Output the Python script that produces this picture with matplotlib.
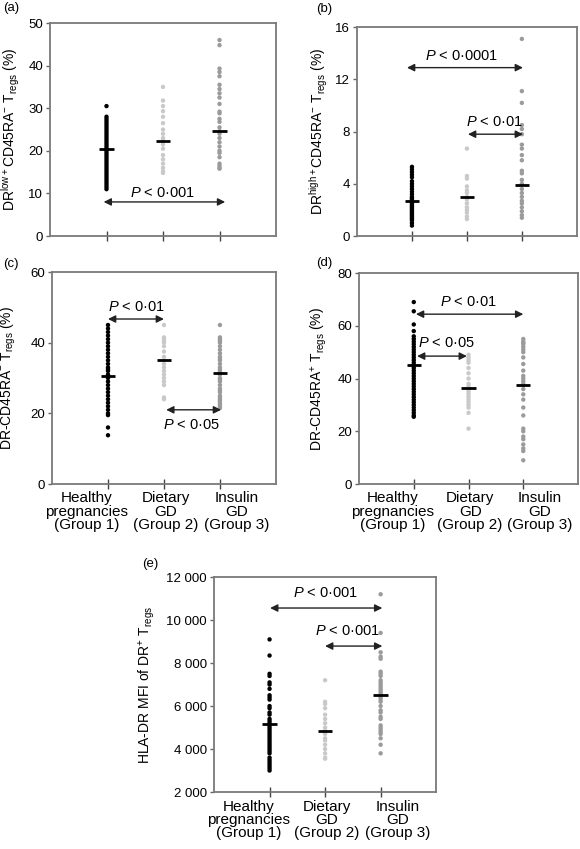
import numpy as np
import matplotlib
matplotlib.use('Agg')
import matplotlib.pyplot as plt

plt.rcParams['font.family'] = ['Liberation Sans', 'DejaVu Sans']
plt.rcParams['mathtext.fontset'] = 'custom'
plt.rcParams['mathtext.rm'] = 'Liberation Sans'
plt.rcParams['mathtext.it'] = 'Liberation Sans:italic'

groups = ['Healthy\npregnancies\n(Group 1)', 'Dietary\nGD\n(Group 2)', 'Insulin\nGD\n(Group 3)']
group_colors = ['black', '#c9c9c9', '#9b9b9b']

# (a) DRlow+ CD45RA- Tregs (%)
a_g1 = [30.5, 28, 27.5, 27, 26.5, 26, 25.5, 25, 24.5, 24, 23.5, 23, 22.5, 22, 21.5, 21,
        20.5, 20.3, 20, 19.5, 19, 18.5, 18, 17.5, 17, 16.5, 16, 15.5, 15, 14.5, 14, 13.5,
        13, 12.5, 12, 11.5, 11]
a_g2 = [35, 31.8, 30.5, 29.3, 28, 26.5, 25, 24, 23, 22.5, 21.5, 20.5, 19, 18, 17, 16, 15.2, 14.8]
a_g3 = [46, 44.8, 39.3, 38.5, 37.5, 35.5, 34.5, 33.5, 32.5, 31, 29.2, 28.8, 27.5, 26.8, 25.5,
        24.6, 24, 23, 22, 21, 20, 19.5, 18.5, 17, 16.5, 16, 15.8]
a_med = [20.5, 22.3, 24.6]

# (b) DRhigh+ CD45RA- Tregs (%)
b_g1 = [5.3, 5.1, 4.9, 4.7, 4.5, 4.2, 4.0, 3.8, 3.6, 3.4, 3.2, 3.0, 2.9, 2.8, 2.7, 2.6, 2.5,
        2.4, 2.3, 2.2, 2.1, 2.0, 1.9, 1.8, 1.7, 1.6, 1.5, 1.4, 1.3, 1.2, 1.0, 0.8]
b_g2 = [6.7, 4.6, 4.4, 3.8, 3.5, 3.3, 3.0, 2.8, 2.5, 2.2, 2.0, 1.8, 1.5, 1.3]
b_g3 = [15.1, 11.1, 10.2, 8.5, 8.2, 7.8, 7.0, 6.7, 6.2, 5.8, 5.0, 4.8, 4.3, 4.0, 3.6, 3.3,
        3.0, 2.7, 2.5, 2.2, 1.9, 1.6, 1.4]
b_med = [2.7, 3.0, 3.9]

# (c) DR- CD45RA- Tregs (%)
c_g1 = [45, 44, 43, 42, 41, 40, 39, 38, 37, 36, 35, 34, 33, 32.5, 32, 31, 30.5, 30, 29, 28,
        27, 26, 25, 24, 23, 22, 21, 20, 19.5, 16, 13.8]
c_g2 = [45, 41.5, 41, 40.5, 40, 39, 37.5, 36, 35, 34, 33, 32, 31, 30, 29, 28, 24.5, 24]
c_g3 = [45, 41.5, 41, 40.5, 40, 39, 38, 37, 36, 35.5, 35, 34, 33, 32.5, 32, 31.5, 31, 30,
        29.5, 29, 28, 27, 26.5, 26, 25, 24.5, 24, 23.5, 23, 22.5, 22, 21.5]
c_med = [30.5, 35, 31.3]

# (d) DR- CD45RA+ Tregs (%)
d_g1 = [69, 65.5, 60.5, 58, 56, 55, 54, 53, 52, 51, 50, 49, 48, 47, 46, 45, 44, 43, 42, 41,
        40, 39, 38, 37, 36, 35, 34, 33, 32, 31, 30, 29, 28, 27, 26, 25.5]
d_g2 = [49, 48, 47, 46, 44, 42, 40, 38, 37, 36, 35, 34, 33, 32, 31, 30, 29, 27, 21]
d_g3 = [55, 54, 53.5, 53, 52, 51, 50, 48, 45.5, 43, 41, 40, 39, 38, 37.5, 36, 34, 32, 29,
        26, 21, 20, 18, 17, 15, 13.5, 12.5, 9]
d_med = [45, 36.5, 37.7]

# (e) HLA-DR MFI of DR+ Tregs
e_g1 = [9100, 8350, 7500, 7400, 7100, 7000, 6800, 6500, 6400, 6300, 6000, 5900, 5700, 5600,
        5400, 5300, 5200, 5100, 5000, 4900, 4800, 4700, 4600, 4500, 4400, 4300, 4200, 4100,
        4000, 3900, 3800, 3600, 3500, 3400, 3300, 3200, 3100, 3000]
e_g2 = [7200, 6200, 6100, 5900, 5600, 5400, 5200, 5000, 4850, 4700, 4500, 4400, 4200, 4000,
        3800, 3600, 3550]
e_g3 = [11200, 9400, 8500, 8300, 8200, 7600, 7500, 7400, 7200, 7100, 7000, 6900, 6800, 6700,
        6600, 6500, 6400, 6300, 6200, 6000, 5800, 5700, 5500, 5400, 5100, 5000, 4900, 4800,
        4700, 4500, 4200, 3800]
e_med = [5150, 4850, 6500]
e_ticks = [2000, 4000, 6000, 8000, 10000, 12000]
e_ticklabels = ['2 000', '4 000', '6 000', '8 000', '10 000', '12 000']

# comparisons: (x_start, x_end, y_arrow, text, x_text, y_text)
a_comp = [(0.95, 3.1, 8, '$P$ < 0·001', 2.0, 10.1)]
b_comp = [(0.91, 3.02, 12.9, '$P$ < 0·0001', 1.91, 13.8),
          (2.02, 3.02, 7.8, '$P$ < 0·01', 2.5, 8.7)]
c_comp = [(1.0, 2.0, 46.7, '$P$ < 0·01', 1.5, 50.2),
          (2.04, 3.02, 21, '$P$ < 0·05', 2.5, 16.8)]
d_comp = [(1.04, 3.0, 64.4, '$P$ < 0·01', 1.99, 69.2),
          (1.06, 1.97, 48.5, '$P$ < 0·05', 1.6, 53.3)]
e_comp = [(1.01, 3.03, 10560, '$P$ < 0·001', 2.0, 11250),
          (2.0, 3.03, 8790, '$P$ < 0·001', 2.4, 9500)]

# where the group names sit under the axis (data x)
label_x = [0.62, 2.03, 3.3]


def draw_panel(ax, data, med, comps, ylim, yticks, ylabel, show_xlabels, ylab_x,
               yticklabels=None):
    for i, vals in enumerate(data):
        x = np.full(len(vals), i + 1)
        ax.scatter(x, vals, s=10, color=group_colors[i], edgecolors='none', zorder=2)
        ax.plot([i + 1 - 0.13, i + 1 + 0.13], [med[i], med[i]], color='black', lw=2, zorder=3,
                solid_capstyle='butt')
    for x0, x1, y, txt, xt, yt in comps:
        ax.annotate('', xy=(x1, y), xytext=(x0, y),
                    arrowprops=dict(arrowstyle='<|-|>', color='#222222', lw=1.0,
                                    mutation_scale=11, shrinkA=0, shrinkB=0), zorder=4)
        ax.text(xt, yt, txt, ha='center', va='center', fontsize=10.5)
    ax.set_xlim(0, 4)
    ax.set_ylim(*ylim)
    ax.set_xticks([1, 2, 3])
    ax.set_xticklabels([])
    if show_xlabels:
        for i, g in enumerate(groups):
            ax.text(label_x[i], -0.035, g, transform=ax.get_xaxis_transform(),
                    ha='center', va='top', fontsize=11, linespacing=0.95)
    ax.set_yticks(yticks)
    if yticklabels is not None:
        ax.set_yticklabels(yticklabels)
    ax.tick_params(axis='y', direction='out', length=3, width=1, color='#666666',
                   labelsize=9.5, pad=2)
    ax.tick_params(axis='x', direction='inout', length=7, width=1, color='#444444')
    ax.set_ylabel(ylabel, fontsize=10)
    ax.yaxis.set_label_coords(ylab_x, 0.5)
    for sp in ax.spines.values():
        sp.set_color('#7a7a7a')
        sp.set_linewidth(1.3)


fig = plt.figure(figsize=(5.8, 8.49), dpi=100)

ax_a = fig.add_axes([0.0862, 0.722, 0.3897, 0.2509])
draw_panel(ax_a, [a_g1, a_g2, a_g3], a_med, a_comp, (0, 50), [0, 10, 20, 30, 40, 50],
           r'DR$^{\mathrm{low+}}$CD45RA$^{-}$ T$_{\mathrm{regs}}$ (%)', False, -0.125)

ax_b = fig.add_axes([0.6155, 0.722, 0.379, 0.246])
draw_panel(ax_b, [b_g1, b_g2, b_g3], b_med, b_comp, (0, 16), [0, 4, 8, 12, 16],
           r'DR$^{\mathrm{high+}}$CD45RA$^{-}$ T$_{\mathrm{regs}}$ (%)', False, -0.125)

ax_c = fig.add_axes([0.0897, 0.4299, 0.386, 0.2497])
draw_panel(ax_c, [c_g1, c_g2, c_g3], c_med, c_comp, (0, 60), [0, 20, 40, 60],
           r'DR-CD45RA$^{-}$ T$_{\mathrm{regs}}$ (%)', True, -0.15)

ax_d = fig.add_axes([0.619, 0.4299, 0.3776, 0.2485])
draw_panel(ax_d, [d_g1, d_g2, d_g3], d_med, d_comp, (0, 80), [0, 20, 40, 60, 80],
           r'DR-CD45RA$^{+}$ T$_{\mathrm{regs}}$ (%)', True, -0.135)

ax_e = fig.add_axes([0.369, 0.0671, 0.383, 0.2532])
draw_panel(ax_e, [e_g1, e_g2, e_g3], e_med, e_comp, (2000, 12000), e_ticks,
           r'HLA-DR MFI of DR$^{+}$ T$_{\mathrm{regs}}$', True, -0.255, e_ticklabels)

fig.text(0.005, 0.991, '(a)', fontsize=9.5, va='center')
fig.text(0.545, 0.989, '(b)', fontsize=9.5, va='center')
fig.text(0.005, 0.689, '(c)', fontsize=9.5, va='center')
fig.text(0.545, 0.690, '(d)', fontsize=9.5, va='center')
fig.text(0.245, 0.336, '(e)', fontsize=9.5, va='center')

fig.savefig('out.png', dpi=100)
